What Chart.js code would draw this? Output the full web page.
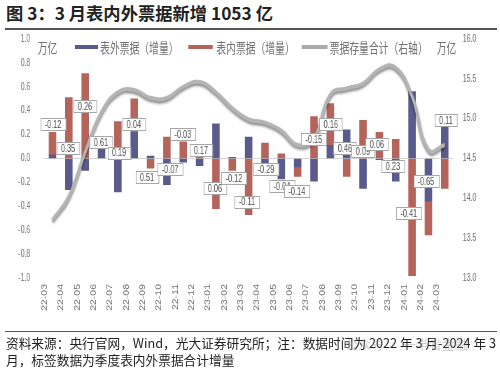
<!DOCTYPE html>
<html>
<head>
<meta charset="utf-8">
<script src="https://cdn.jsdelivr.net/npm/chart.js@4.4.1/dist/chart.umd.min.js"></script>
<style>
  body { margin: 0; background: #fff; width: 500px; height: 369px; overflow: hidden; position: relative; font-family: "Noto Sans CJK SC", sans-serif; }
  #title { position: absolute; left: 6px; top: 3px; font-size: 17.3px; font-weight: bold; line-height: 20px; color: #222; white-space: nowrap; }
  .rule { position: absolute; left: 5px; width: 492px; background: #555; }
  #foot { position: absolute; left: 6px; top: 334px; font-size: 12.7px; line-height: 17px; color: #222; white-space: nowrap; }
  #mark { position: absolute; left: 345px; top: 335px; font-size: 13px; line-height: 17px; color: rgba(150,150,150,0.45); white-space: nowrap; }
  /* the chart image in the source is squeezed sideways, so draw wide and squeeze */
  #wrap { position: absolute; left: 0; top: 0; width: 714px; height: 369px; transform: scaleX(0.7); transform-origin: 0 0; }
  .lg { position: absolute; top: 39px; font-size: 14px; line-height: 16px; color: #707070; white-space: nowrap; }
  .sw { position: absolute; top: 45px; height: 4px; }
</style>
</head>
<body>
<div id="title">图 3：3 月表内外票据新增 1053 亿</div>
<div class="rule" style="top:28px;height:1.5px"></div>

<div id="wrap">
  <canvas id="c" width="714" height="369"></canvas>
  <span class="lg" style="left:54px">万亿</span>
  <span class="sw" style="left:107px;width:33px;background:#5b5a8c"></span>
  <span class="lg" style="left:143px">表外票据（增量）</span>
  <span class="sw" style="left:269px;width:35px;background:#b4645b"></span>
  <span class="lg" style="left:309px">表内票据（增量）</span>
  <span class="sw" style="left:431px;width:37px;background:#ababab"></span>
  <span class="lg" style="left:471px">票据存量合计（右轴）</span>
  <span class="lg" style="left:624px">万亿</span>
</div>

<div class="rule" style="top:331px;height:1px"></div>
<div id="foot">资料来源：央行官网，Wind，光大证券研究所；注：数据时间为 2022 年 3 月-2024 年 3<br>月，标签数据为季度表内外票据合计增量</div>
<div id="mark">公众号 · 一半看金融</div>

<script>
const months = ['22-03','22-04','22-05','22-06','22-07','22-08','22-09','22-10','22-11','22-12',
  '23-01','23-02','23-03','23-04','23-05','23-06','23-07','23-08','23-09','23-10','23-11','23-12',
  '24-01','24-02','24-03'];

// 表外票据（增量），万亿
const offBalance = [0.03, -0.26, -0.10, 0.08, -0.28, 0.22, 0.02, -0.22, -0.03, -0.06,
  0.29, 0.01, 0.18, -0.05, -0.17, -0.07, -0.19, 0.11, 0.24, -0.25, -0.01, -0.19,
  0.56, -0.36, 0.27];

// 表内票据（增量），万亿
const onBalance = [0.19, 0.51, 0.71, 0.02, 0.31, 0.28, -0.08, 0.18, 0.14, 0.05,
  -0.42, -0.10, -0.47, 0.13, 0.04, -0.08, 0.35, 0.35, -0.15, 0.32, 0.22, 0.16,
  -0.98, -0.28, -0.25];

// 票据存量合计（右轴），万亿
const billStock = [13.73, 14.02, 14.58, 15.08, 15.33, 15.36, 15.26, 15.26, 15.40, 15.46,
  15.33, 15.13, 14.99, 14.95, 14.85, 14.67, 14.75, 15.30, 15.38, 15.44, 15.62, 15.64,
  15.28, 14.61, 14.67];

// quarterly total tags, in drawing order
const tagTexts = ['-0.12','0.35','0.26','0.61','0.19','0.04','0.51','-0.07','-0.03','0.17',
  '0.06','-0.12','-0.11','-0.29','-0.04','-0.14','-0.15','0.16','0.46','0.09','0.06','0.23',
  '-0.41','-0.65','0.11'];

// where each tag box sits: [category index, left-axis value]
const tagSpots = [[0.03,0.29],[0.95,0.09],[1.99,0.44],[2.97,0.14],[4.07,0.05],[4.98,0.29],
  [5.78,-0.155],[7.19,-0.09],[7.98,0.205],[9.08,0.07],[9.94,-0.25],[11.1,-0.16],[11.9,-0.36],
  [13.06,-0.09],[14.04,-0.23],[14.95,-0.27],[15.99,0.16],[17.03,0.29],[17.89,0.09],[18.99,0.06],
  [19.85,0.12],[20.83,-0.06],[21.8,-0.46],[22.85,-0.19],[24.07,0.32]];

const BLUE = '#5b5a8c', RED = '#b4645b', GREY = '#b4b4b4';

Chart.defaults.font.family = '"Liberation Sans", Arial, sans-serif';
Chart.defaults.font.size = 10;
Chart.defaults.color = '#707070';

// soft dark shade under the stock line, like the source's 3D line
const lineShade = {
  id: 'lineShade',
  beforeDatasetDraw(chart, args) {
    if (args.index !== 2) return;
    const c = chart.ctx;
    c.save();
    c.shadowColor = 'rgba(0,0,0,0.5)';
    c.shadowBlur = 3;
    c.shadowOffsetY = 2;
  },
  afterDatasetDraw(chart, args) {
    if (args.index === 2) chart.ctx.restore();
  }
};

const tagBoxes = {
  id: 'tagBoxes',
  afterDatasetsDraw(chart) {
    const { ctx, scales: { x, y } } = chart;
    ctx.save();
    ctx.font = '10.5px "Liberation Sans", Arial, sans-serif';
    ctx.textAlign = 'center';
    ctx.textBaseline = 'middle';
    tagTexts.forEach((t, i) => {
      const px = x.getPixelForValue(tagSpots[i][0]);
      const py = y.getPixelForValue(tagSpots[i][1]);
      const w = ctx.measureText(t).width + 12, h = 12;
      const left = Math.round(px - w / 2), top = Math.round(py - h / 2);
      ctx.fillStyle = '#fff';
      ctx.fillRect(left, top, w, h);
      ctx.strokeStyle = '#a6a6a6';
      ctx.lineWidth = 1;
      ctx.strokeRect(left + 0.5, top + 0.5, w, h);
      ctx.fillStyle = '#4a4a4a';
      ctx.fillText(t, px, py + 1);
    });
    ctx.restore();
  }
};

new Chart(document.getElementById('c'), {
  data: {
    labels: months,
    datasets: [
      { type: 'bar', label: '表外票据（增量）', data: offBalance, backgroundColor: BLUE, barThickness: 10, order: 1, yAxisID: 'y' },
      { type: 'bar', label: '表内票据（增量）', data: onBalance, backgroundColor: RED, barThickness: 10, order: 1, yAxisID: 'y' },
      { type: 'line', label: '票据存量合计（右轴）', data: billStock, borderColor: GREY, borderWidth: 4,
        tension: 0.45, pointRadius: 0, fill: false, order: 0, yAxisID: 'y1' }
    ]
  },
  plugins: [lineShade, tagBoxes],
  options: {
    responsive: false,
    animation: false,
    layout: { padding: { top: 39, left: 0, right: 0, bottom: 0 } },
    plugins: { legend: { display: false }, tooltip: { enabled: false } },
    scales: {
      x: {
        stacked: true,
        offset: true,
        grid: { display: false },
        border: { display: false },
        ticks: { autoSkip: false, minRotation: 90, maxRotation: 90, labelOffset: -11, padding: -2, font: { size: 10.5 } },
        afterFit(s) { s.height = 91; }
      },
      y: {
        stacked: true,
        min: -1, max: 1,
        grid: { color: c => Math.abs(c.tick.value) < 1e-9 ? '#d4d4d4' : 'rgba(0,0,0,0)', drawTicks: false },
        border: { display: false },
        ticks: { stepSize: 0.2, padding: 20, callback: v => (Math.abs(v) < 1e-9 ? 0 : v).toFixed(1) },
        afterFit(s) { s.width = 63.3; }
      },
      y1: {
        position: 'right',
        min: 13, max: 16,
        grid: { display: false, drawTicks: false },
        border: { display: false },
        ticks: { stepSize: 0.5, padding: 14, callback: v => v.toFixed(1) },
        afterFit(s) { s.width = 67; }
      }
    }
  }
});
</script>
</body>
</html>
